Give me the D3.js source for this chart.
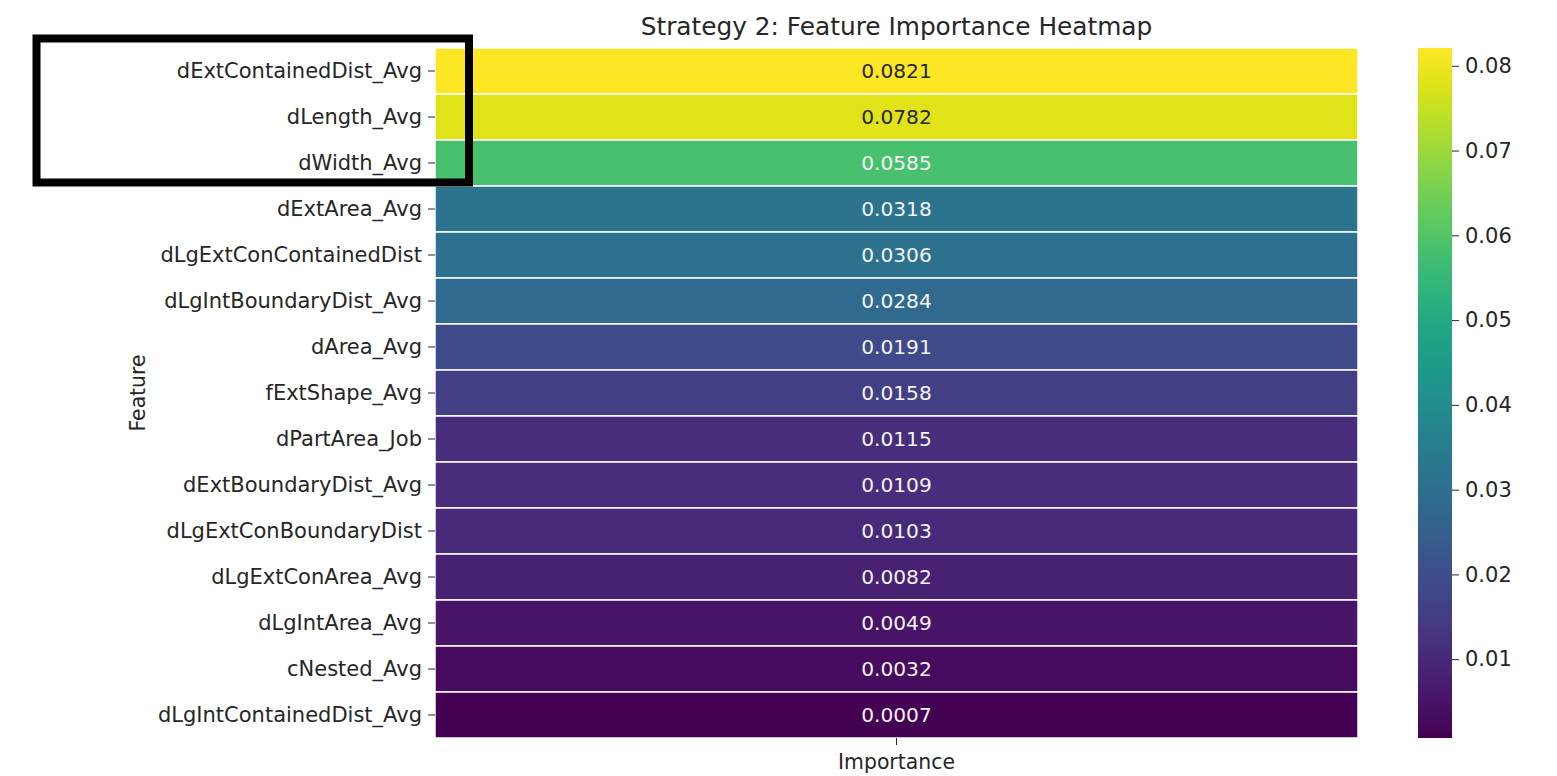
<!DOCTYPE html>
<html><head><meta charset="utf-8">
<script src="https://cdn.jsdelivr.net/npm/d3@7"></script>
<style>body{margin:0;background:#fff;} svg{display:block;font-family:"DejaVu Sans",sans-serif;}</style>
</head><body>
<svg id="c" width="1557" height="776"></svg>
<script>
const features = ["dExtContainedDist_Avg","dLength_Avg","dWidth_Avg","dExtArea_Avg","dLgExtConContainedDist","dLgIntBoundaryDist_Avg","dArea_Avg","fExtShape_Avg","dPartArea_Job","dExtBoundaryDist_Avg","dLgExtConBoundaryDist","dLgExtConArea_Avg","dLgIntArea_Avg","cNested_Avg","dLgIntContainedDist_Avg"];
const importance = [0.0821,0.0782,0.0585,0.0318,0.0306,0.0284,0.0191,0.0158,0.0115,0.0109,0.0103,0.0082,0.0049,0.0032,0.0007];
const columns = ["Importance"];
const cbarTicks = [0.01,0.02,0.03,0.04,0.05,0.06,0.07,0.08];
const title = "Strategy 2: Feature Importance Heatmap";

const svg = d3.select("#c");
const L=435, R=1358, T=48, B=738;
const textCol = "#262626";
const x = d3.scaleBand().domain(columns).range([L,R]);
const y = d3.scaleBand().domain(features).range([T,B]);
const vmin = d3.min(importance), vmax = d3.max(importance);
const color = d3.scaleSequential(d3.interpolateViridis).domain([vmin,vmax]);

const data = features.map((f,i)=>({f, v:importance[i]}));
svg.append("g").selectAll("rect").data(data).join("rect")
  .attr("x", x("Importance")).attr("width", x.bandwidth())
  .attr("y", d=>y(d.f)).attr("height", y.bandwidth())
  .attr("fill", d=>color(d.v)).attr("stroke","#fff").attr("stroke-width",1.5);

function lum(c){const r=d3.rgb(c);const f=v=>{v/=255;return v<=0.03928?v/12.92:Math.pow((v+0.055)/1.055,2.4);};return 0.2126*f(r.r)+0.7152*f(r.g)+0.0722*f(r.b);}
svg.append("g").selectAll("text").data(data).join("text")
  .attr("x", x("Importance")+x.bandwidth()/2).attr("y", d=>y(d.f)+y.bandwidth()/2)
  .attr("text-anchor","middle").attr("dominant-baseline","central")
  .attr("font-size",20.2)
  .attr("fill", d=>lum(color(d.v))>0.408?textCol:"#f4f4f4")
  .text(d=>d.v.toFixed(4));

// y axis
const ya = svg.append("g").attr("transform",`translate(${L},0)`)
  .call(d3.axisLeft(y).tickSize(7).tickPadding(6));
ya.select(".domain").remove();
ya.selectAll("line").attr("stroke",textCol);
ya.selectAll("text").attr("font-size",21).attr("fill",textCol).attr("font-family","DejaVu Sans");

// x axis
const xa = svg.append("g").attr("transform",`translate(0,${B})`)
  .call(d3.axisBottom(x).tickSize(7).tickPadding(3));
xa.select(".domain").remove();
xa.selectAll("line").attr("stroke",textCol);
xa.selectAll("text").attr("font-size",20.4).attr("fill",textCol).attr("font-family","DejaVu Sans").attr("dy","1.05em");

svg.append("text").attr("x",(L+R)/2+0).attr("y",35).attr("text-anchor","middle")
  .attr("font-size",24.8).attr("fill",textCol).text(title);
svg.append("text").attr("transform",`translate(145,${(T+B)/2}) rotate(-90)`)
  .attr("text-anchor","middle").attr("font-size",20.4).attr("fill",textCol).text("Feature");

// colorbar
const cL=1418, cW=34;
const cy = d3.scaleLinear().domain([vmin,vmax]).range([B,T]);
const defs = svg.append("defs");
const grad = defs.append("linearGradient").attr("id","g").attr("x1",0).attr("x2",0).attr("y1",1).attr("y2",0);
d3.range(0,1.0001,0.05).forEach(t=>grad.append("stop").attr("offset",t).attr("stop-color",d3.interpolateViridis(t)));
svg.append("rect").attr("x",cL).attr("y",T).attr("width",cW).attr("height",B-T).attr("fill","url(#g)");
const ca = svg.append("g").attr("transform",`translate(${cL+cW},0)`)
  .call(d3.axisRight(cy).tickValues(cbarTicks).tickFormat(d3.format(".2f")).tickSize(7).tickPadding(6));
ca.select(".domain").remove();
ca.selectAll("line").attr("stroke",textCol);
ca.selectAll("text").attr("font-size",21).attr("fill",textCol).attr("font-family","DejaVu Sans");

// highlight box
svg.append("rect").attr("x",36.5).attr("y",38.5).attr("width",432.5).attr("height",144)
  .attr("fill","none").attr("stroke","#000").attr("stroke-width",8);
</script>
</body></html>
